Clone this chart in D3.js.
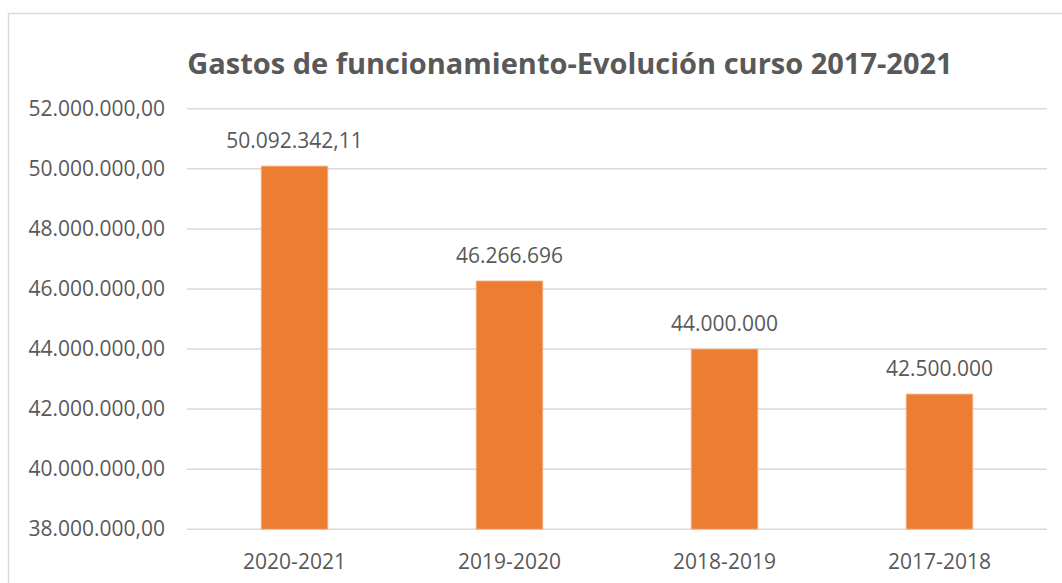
<!DOCTYPE html>
<html>
<head>
<meta charset="utf-8">
<script src="https://cdn.jsdelivr.net/npm/d3@7"></script>
<style>
  body { margin: 0; background: #fff; }
  text { font-family: "Open Sans", sans-serif; fill: #595959; }
</style>
</head>
<body>
<div id="chart"></div>
<script>
const svgWidth = 1062;
const svgHeight = 583;

// data
const categories = ["2020-2021", "2019-2020", "2018-2019", "2017-2018"];
const values = [50092342.11, 46266696, 44000000, 42500000];
const valueLabels = ["50.092.342,11", "46.266.696", "44.000.000", "42.500.000"];
const yTicks = [38000000, 40000000, 42000000, 44000000, 46000000, 48000000, 50000000, 52000000];

const margin = { top: 108.8, right: 15, bottom: 53.8, left: 187 };
const width = svgWidth - margin.left - margin.right;
const height = svgHeight - margin.top - margin.bottom;

const svg = d3.select("#chart")
  .append("svg")
  .attr("width", svgWidth)
  .attr("height", svgHeight);

// chart frame (right/bottom edges fall outside the picture)
svg.append("rect")
  .attr("x", 8.5)
  .attr("y", 13.5)
  .attr("width", 1100)
  .attr("height", 600)
  .attr("fill", "none")
  .attr("stroke", "#d9d9d9")
  .attr("stroke-width", 1.5);

svg.append("text")
  .attr("x", 570)
  .attr("y", 74)
  .attr("text-anchor", "middle")
  .style("font-size", "29px")
  .style("font-weight", "bold")
  .text("Gastos de funcionamiento-Evolución curso 2017-2021");

const chartGroup = svg.append("g")
  .attr("transform", `translate(${margin.left}, ${margin.top})`);

const x = d3.scaleBand()
  .domain(categories)
  .range([0, width])
  .paddingInner(0.69)
  .paddingOuter(0.345);

const y = d3.scaleLinear()
  .domain([38000000, 52000000])
  .range([height, 0]);

const fmt = d => d3.format(",.2f")(d).replace(/,/g, "#").replace(".", ",").replace(/#/g, ".");

// gridlines
chartGroup.append("g")
  .selectAll("line")
  .data(yTicks)
  .enter()
  .append("line")
  .attr("x1", 0)
  .attr("x2", width)
  .attr("y1", d => y(d))
  .attr("y2", d => y(d))
  .attr("stroke", "#d9d9d9")
  .attr("stroke-width", 1.5);

// y axis
const leftAxis = d3.axisLeft(y).tickValues(yTicks).tickFormat(fmt).tickSize(0).tickPadding(22);
const yAxis = chartGroup.append("g").call(leftAxis);
yAxis.select(".domain").remove();
yAxis.selectAll("text")
  .style("font-size", "21px")
  .style("font-family", "'Open Sans', sans-serif")
  .attr("fill", "#595959");

// x axis
const bottomAxis = d3.axisBottom(x).tickSize(0).tickPadding(25);
const xAxis = chartGroup.append("g")
  .attr("transform", `translate(0, ${height})`)
  .call(bottomAxis);
xAxis.select(".domain").remove();
xAxis.selectAll("text")
  .style("font-size", "21px")
  .style("font-family", "'Open Sans', sans-serif")
  .attr("fill", "#595959");

// bars
chartGroup.selectAll(".bar")
  .data(values)
  .enter()
  .append("rect")
  .attr("class", "bar")
  .attr("x", (d, i) => x(categories[i]))
  .attr("y", d => y(d))
  .attr("width", x.bandwidth())
  .attr("height", d => height - y(d))
  .attr("fill", "#ed7d31")
  .attr("stroke", "#f5b88f")
  .attr("stroke-width", 0.8);

// value labels
chartGroup.selectAll(".label")
  .data(values)
  .enter()
  .append("text")
  .attr("class", "label")
  .attr("x", (d, i) => x(categories[i]) + x.bandwidth() / 2)
  .attr("y", d => y(d) - 18)
  .attr("text-anchor", "middle")
  .style("font-size", "21px")
  .text((d, i) => valueLabels[i]);
</script>
</body>
</html>
